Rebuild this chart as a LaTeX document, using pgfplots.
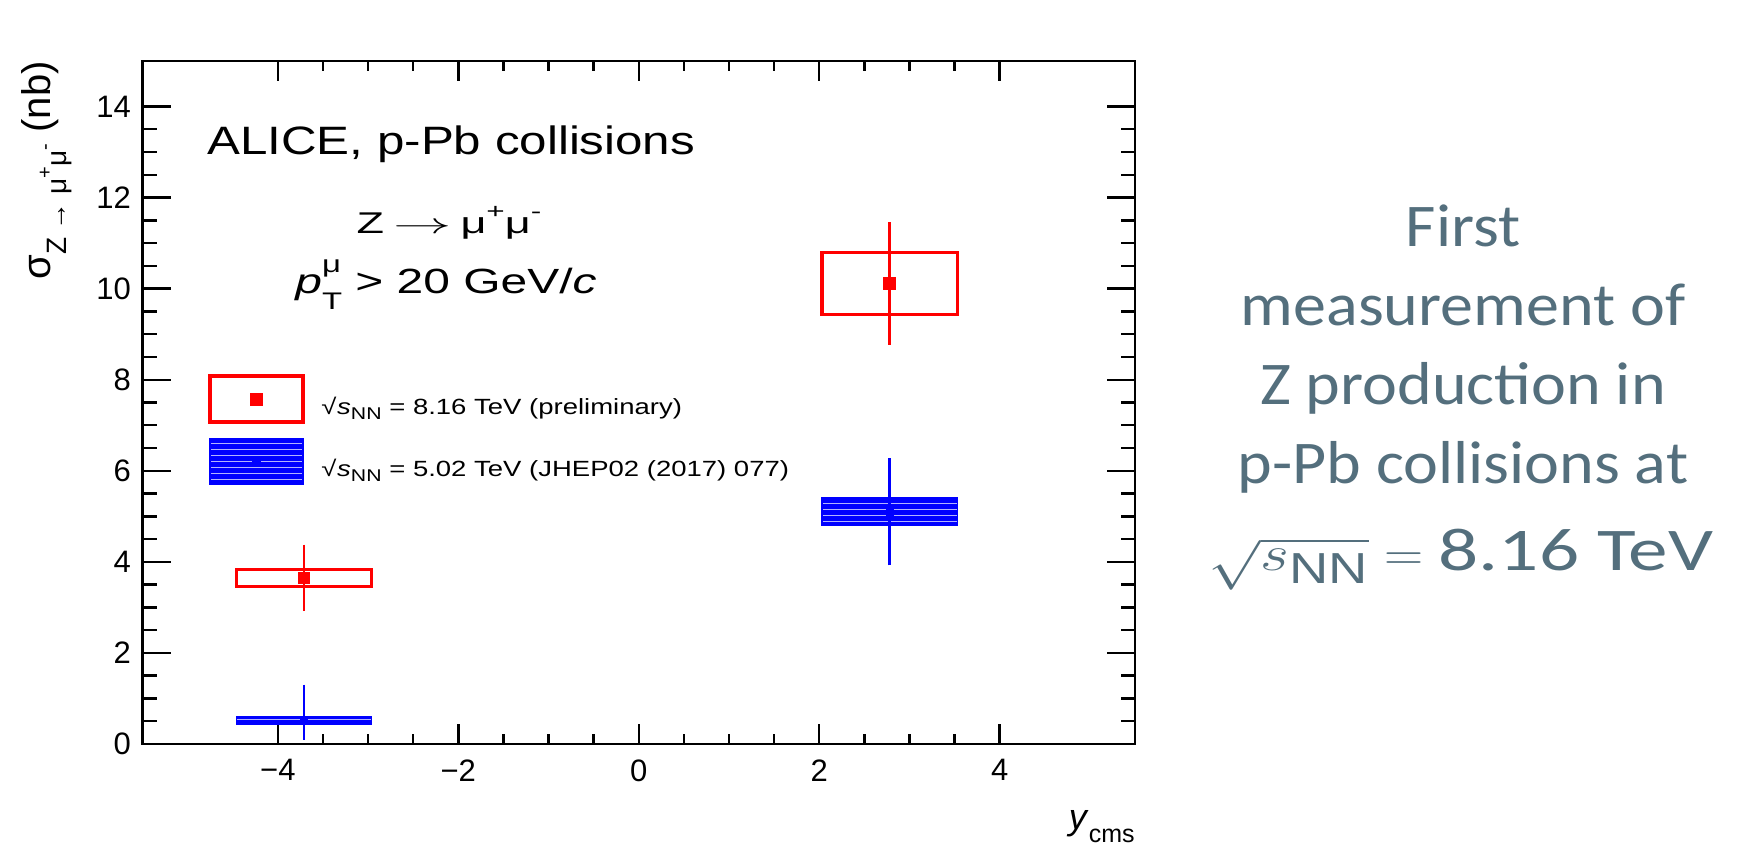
\documentclass[border=0pt]{standalone}
\usepackage{fontspec}
\setmainfont{Liberation Sans}
\newfontfamily\calibri{Carlito}
\usepackage{graphicx}
\usepackage{pgfplots}
\usepackage{pgfplotstable}
\pgfplotsset{compat=1.18}
\usetikzlibrary{patterns}
\definecolor{rootblue}{RGB}{0,0,255}
\definecolor{rootred}{RGB}{255,0,0}
\definecolor{slate}{RGB}{84,111,125}

\pgfplotstableread{
x y ep em
-3.71 3.65 0.66 0.66
2.78 10.12 1.27 1.28
}\redpts
\pgfplotstableread{
x y ep em
-3.71 0.52 0.72 0.36
2.78 5.10 1.11 1.11
}\bluepts

\newcommand{\sNN}{√\kern0.3pt\textit{s}\raisebox{-0.25em}{\fontsize{8.5}{10}\selectfont NN}}
\newcommand{\sh}[4]{% x, y, size, text : right-side text
  \node[anchor=base, inner sep=0pt, text=slate, font=\calibri\fontsize{#3}{#3}\selectfont] at (#1,#2) {\scalebox{1.09}[1]{#4}};}

\begin{document}
\begin{tikzpicture}[x=1pt,y=1pt]
\useasboundingbox (0,0) rectangle (881.5,423);
\pgfplotsset{
  common/.style={
    at={(71.25pt,51pt)}, anchor=south west,
    scale only axis, width=496.25pt, height=341.5pt,
    xmin=-5.5, xmax=5.5, ymin=0, ymax=15,
    axis line style={line width=1.3pt},
    tick align=inside,
    every tick/.style={black, line width=1.2pt},
    ticklabel style={font=\fontsize{15.5}{18}\selectfont},
    /pgf/number format/assume math mode=true,
  }
}
\begin{axis}[common,
  xtick={-4,-2,0,2,4}, xticklabels={−4,−2,0,2,4},
  minor x tick num=3,
  ytick=\empty,
  major tick length=10pt, minor tick length=5pt,
  xticklabel style={yshift=-4.2pt},
  legend style={at={(axis description cs:0.066,0.5417)}, anchor=north west,
    draw=none, fill=none, inner sep=0pt, row sep=7pt,
    font=\fontsize{11}{13}\selectfont,
    nodes={inner sep=0pt}},
  legend cell align=left,
]
\addlegendimage{legend image code/.code={
  \draw[rootred, line width=1.6pt] (0pt,-7.6pt) rectangle (46.5pt,15.4pt);
  \fill[rootred] (20.25pt,0.9pt) rectangle (26.25pt,6.9pt);}}
\addlegendentry{\hspace*{8.4pt}\scalebox{1.25}[1]{\sNN{} = 8.16 TeV (preliminary)}}
\addlegendimage{legend image code/.code={
  \fill[rootblue] (0pt,-7.6pt) rectangle (46.5pt,15.4pt);
  \fill[pattern=horizontal lines, pattern color=blue!30!white] (0pt,-7.6pt) rectangle (46.5pt,15.4pt);
  \draw[rootblue, line width=0.8pt] (0pt,-7.6pt) rectangle (46.5pt,15.4pt);
  \fill[rootblue] (21.25pt,1.9pt) rectangle (25.25pt,5.9pt);}}
\addlegendentry{\hspace*{8.4pt}\scalebox{1.25}[1]{\sNN{} = 5.02 TeV (JHEP02 (2017) 077)}}

% 5.02 TeV systematic boxes
\addplot[draw=rootblue, line width=0.6pt, line cap=rect, fill=rootblue,
  postaction={pattern=horizontal lines, pattern color=blue!30!white}]
  coordinates {(-4.46,0.43) (-2.96,0.43) (-2.96,0.61) (-4.46,0.61) (-4.46,0.43)};
\addplot[draw=rootblue, line width=0.6pt, line cap=rect, fill=rootblue,
  postaction={pattern=horizontal lines, pattern color=blue!30!white}]
  coordinates {(2.03,4.79) (3.53,4.79) (3.53,5.42) (2.03,5.42) (2.03,4.79)};
% 5.02 TeV points
\addplot[rootblue, only marks, mark=square*, mark size=1.7pt,
  error bars/.cd, y dir=both, y explicit,
  error bar style={line width=1.1pt},
  error mark options={line width=1.1pt, mark size=1.5pt}]
  table[x=x, y=y, y error plus=ep, y error minus=em] {\bluepts};
% 8.16 TeV systematic boxes
\addplot[draw=rootred, line width=1.6pt, line cap=rect, fill=none]
  coordinates {(-4.46,3.46) (-2.96,3.46) (-2.96,3.84) (-4.46,3.84) (-4.46,3.46)};
\addplot[draw=rootred, line width=1.6pt, line cap=rect, fill=none]
  coordinates {(2.03,9.44) (3.53,9.44) (3.53,10.80) (2.03,10.80) (2.03,9.44)};
% 8.16 TeV points
\addplot[rootred, only marks, mark=square*, mark size=2.9pt,
  error bars/.cd, y dir=both, y explicit,
  error bar style={line width=1.4pt},
  error mark options={line width=1.4pt, mark size=1.6pt}]
  table[x=x, y=y, y error plus=ep, y error minus=em] {\redpts};
\end{axis}
\begin{axis}[common,
  xtick=\empty,
  ytick={0,2,...,14}, minor y tick num=3,
  major tick length=14pt, minor tick length=7pt,
  yticklabel style={xshift=-2.3pt},
]
\end{axis}

% axis titles
\node[rotate=90, anchor=base east, inner sep=0pt, font=\fontsize{20}{22}\selectfont]
  at (25,392.5) {σ\raisebox{-0.42em}{\fontsize{14}{16}\selectfont Z → μ\raisebox{0.55em}{\fontsize{10}{11}\selectfont +}μ\raisebox{0.55em}{\fontsize{10}{11}\selectfont -}}\ (nb)};
\node[anchor=base east, inner sep=0pt, font=\fontsize{18}{20}\selectfont]
  at (567.5,8) {\textit{y}\raisebox{-6.5pt}{\fontsize{12.5}{14}\selectfont cms}};

% texts inside the frame
\node[anchor=base west, inner sep=0pt, font=\fontsize{19.8}{22}\selectfont]
  at (103.5,345.5) {\scalebox{1.245}[1]{ALICE, p-Pb collisions}};
\node[anchor=base, inner sep=0pt, font=\fontsize{15}{18}\selectfont]
  at (224.5,306.35) {\scalebox{1.5}[1]{Z\hspace{3pt}\scalebox{1.35}[1]{$\rightarrow$}\hspace{3pt}μ\raisebox{0.5em}{\fontsize{10.5}{12}\selectfont +}μ\raisebox{0.5em}{\fontsize{10.5}{12}\selectfont -}}};
\node[anchor=base, inner sep=0pt, font=\fontsize{17.5}{20}\selectfont]
  at (223,276.35) {\scalebox{1.37}[1]{\textit{p}\makebox[0pt][l]{\raisebox{0.6em}{\fontsize{12}{14}\selectfont μ}}\raisebox{-0.45em}{\fontsize{12}{14}\selectfont T} > 20 GeV/\textit{c}}};

% right-hand text
\sh{731.5}{299.5}{30.3}{First}
\sh{731.5}{260}{30.3}{measurement of}
\sh{731.5}{220.5}{30.3}{Z production in}
\sh{731.5}{181}{30.3}{p-Pb collisions at}
\sh{730.5}{137.5}{30.3}{{\fontsize{31}{31}\selectfont\scalebox{1.15}[1]{$\sqrt{s_{\mathrm{NN}}}$}$\;=\;$}\scalebox{1.2}[1]{8.16 TeV}}
\end{tikzpicture}
\end{document}
